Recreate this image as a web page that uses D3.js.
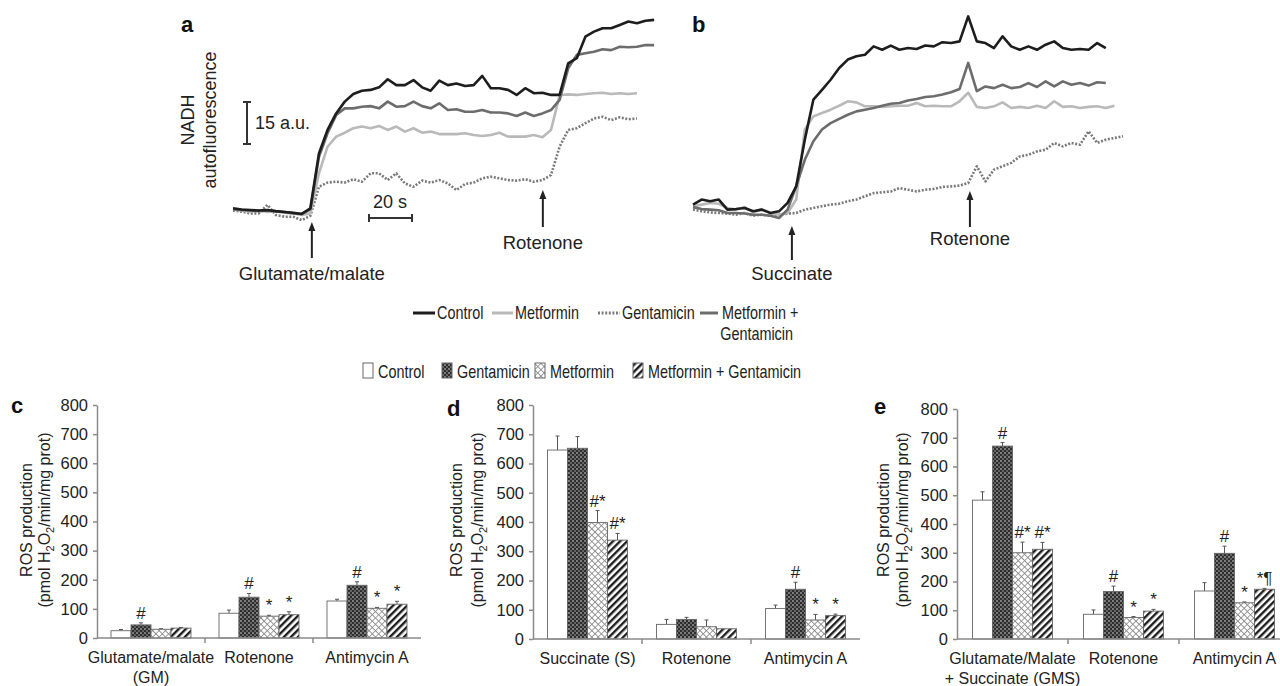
<!DOCTYPE html>
<html><head><meta charset="utf-8">
<script src="https://cdn.jsdelivr.net/npm/d3@7"></script>
<style>
body{margin:0;background:#fff}
svg{display:block;font-family:"Liberation Sans",Arial,Helvetica,sans-serif}
</style></head><body>
<svg id="fig" width="1280" height="686"></svg>
<script>
// ---- NADH traces (a, b): time in s, autofluorescence in a.u. ----
const timeA = [0,4,8,12,16,20,24,28,32,36,40,44,48,52,56,60,64,68,72,76,80,84,88,92,96,100,104,108,112,116,120,124,128,132,136,140,144,148,152,156,160,164,168,172,176,180,184,188,192,196];
const aControl = [0.6,0.2,0,-0.2,0,-0.4,-0.7,-1.0,-1.4,0.6,20.2,28.6,34.5,38.7,41.4,42.6,42.9,43.8,46.7,44.6,44.6,46.4,43.8,42.6,46.2,44.6,45.2,44.3,44.6,47.9,43.5,43.5,42.9,41.1,43.5,41.7,41.9,41.1,41.1,52.4,54.2,61.9,63.7,64.9,64.9,66.1,67.3,66.7,67.6,67.9];
const aMetGent = [0.2,0,-0.2,-0.4,-0.2,-0.5,-0.7,-1.2,-1.4,0.2,19.0,27.4,33.9,36.3,36.3,36.9,37.1,36.3,38.7,36.9,37.1,38.7,37.1,36.3,38.1,35.7,36.0,35.1,35.1,35.7,34.8,34.8,34.5,33.6,34.8,33.6,34.5,35.7,39.3,50.6,55.4,56.0,56.5,57.4,57.1,58.3,58.1,58.3,58.9,58.9];
const aMet = [0.2,-0.2,-0.6,-0.2,-0.7,-0.5,-1.0,-1.2,-1.8,-1.2,13.1,22.6,26.2,27.6,29.2,29.8,29.2,30.0,28.6,29.8,28.0,29.2,27.6,28.0,27.1,27.1,27.1,27.4,26.8,26.4,26.8,27.6,26.2,26.2,26.2,26.8,26.0,28.6,41.0,41.3,41.1,41.4,41.7,41.9,41.4,41.7,41.4,41.7,null,null];
const aGent = [-0.2,-0.6,-1.2,-1.2,1.8,-1.8,-2.4,-2.4,-3.6,-2.1,8.3,9.8,10.1,9.8,11.0,10.1,13.1,13.1,10.7,13.1,9.5,8.3,10.5,9.8,10.7,9.5,7.1,9.3,9.8,11.3,11.9,11.3,10.7,10.5,11.0,10.1,10.7,12.5,22.6,28.6,29.2,31.0,32.7,33.3,32.1,33.1,32.4,32.7,null,null];

const timeB = [0,4,8,12,16,20,24,28,32,36,40,44,48,52,56,60,64,68,72,76,80,84,88,92,96,100,104,108,112,116,120,124,128,132,136,140,144,148,152,156,160,164,168,172,176,180,184,188,192,196,200];
const bControl = [3.0,4.8,4.2,4.8,1.2,1.4,1.8,0.6,1.2,0,0.6,3.6,9.5,26.2,40.5,44.0,47.6,51.8,54.8,56.0,56.5,59.5,58.3,59.8,58.3,58.9,58.6,59.8,59.5,61.0,60.7,61.3,70.2,61.3,60.7,58.9,63.1,59.5,58.3,59.5,58.3,60.1,61.3,58.9,58.3,58.6,58.3,60.7,58.9,null,null];
const bMetGent = [2.1,1.4,1.2,1.0,0,0,-0.2,-0.6,-0.6,-1.0,-1.8,1.2,9.5,19.0,25.6,29.8,32.1,33.6,35.1,36.3,36.9,37.5,38.3,39.0,39.3,40.2,40.7,41.4,41.7,42.3,43.1,44.3,53.6,43.5,45.2,44.6,45.8,44.6,45.0,46.4,45.0,47.0,45.2,47.0,45.8,46.4,45.5,46.7,46.4,null,null];
const bMet = [2.4,3.0,3.6,3.3,1.8,1.2,2.1,0.2,1.4,0,-0.6,0,4.8,29.8,34.5,35.7,36.9,38.3,39.9,39.5,38.1,38.1,37.9,38.1,38.3,38.3,39.3,38.1,38.3,38.1,38.1,39.9,43.0,37.9,37.5,38.1,39.5,37.5,37.9,37.5,38.3,37.5,39.9,37.9,38.1,37.5,37.9,38.1,37.5,38.3,null];
const bGent = [1.2,0.6,0.2,0,-0.2,-0.6,0,-1.0,-0.6,-1.0,-0.6,-0.2,0,1.2,1.8,2.4,3.0,3.3,4.2,4.8,6.0,7.1,7.4,7.7,8.9,8.3,7.7,8.3,8.6,9.3,9.5,9.8,10.7,16.7,11.3,15.5,16.7,17.9,20.2,20.8,22.0,22.6,25.0,23.8,25.0,24.4,29.2,25.0,26.2,26.8,27.4];

// ---- ROS production bars (c, d, e): pmol H2O2/min/mg prot ----
const barSeries = ["Control", "Gentamicin", "Metformin", "Metformin + Gentamicin"];
const yTicks = [0, 100, 200, 300, 400, 500, 600, 700, 800];

const catsC = ["Glutamate/malate\n(GM)", "Rotenone", "Antimycin A"];
const cControl = [25, 85, 127], cControlErr = [4, 11, 6];
const cGent = [45, 140, 181], cGentErr = [7, 13, 12];
const cMet = [30, 75, 102], cMetErr = [2, 3, 3];
const cMetGent = [34, 80, 116], cMetGentErr = [2, 10, 10];
const cMarks = [["", "#", "", ""], ["", "#", "*", "*"], ["", "#", "*", "*"]];

const catsD = ["Succinate (S)", "Rotenone", "Antimycin A"];
const dControl = [646, 50, 104], dControlErr = [48, 17, 12];
const dGent = [652, 67, 170], dGentErr = [40, 7, 24];
const dMet = [398, 42, 65], dMetErr = [41, 23, 19];
const dMetGent = [338, 35, 80], dMetGentErr = [23, 0, 5];
const dMarks = [["", "", "#*", "#*"], ["", "", "", ""], ["", "#", "*", "*"]];

const catsE = ["Glutamate/Malate\n+ Succinate (GMS)", "Rotenone", "Antimycin A"];
const eControl = [483, 86, 167], eControlErr = [29, 15, 29];
const eGent = [671, 165, 298], eGentErr = [12, 19, 25];
const eMet = [300, 75, 126], eMetErr = [37, 3, 3];
const eMetGent = [312, 97, 173], eMetGentErr = [24, 6, 3];
const eMarks = [["", "#", "#*", "#*"], ["", "#", "*", "*"], ["", "#", "*", "*¶"]];

const svg = d3.select("#fig");
const lineStyle = {
    "Control": { stroke: "#1d1d1d", dash: null },
    "Metformin": { stroke: "#b9b9b9", dash: null },
    "Gentamicin": { stroke: "#7a7a7a", dash: "2,1.6" },
    "Metformin + Gentamicin": { stroke: "#6c6c6c", dash: null }
};

// patterns
const defs = svg.append("defs");
const pg = defs.append("pattern").attr("id", "p-gent").attr("patternUnits", "userSpaceOnUse")
    .attr("width", 4).attr("height", 4);
pg.append("rect").attr("width", 4).attr("height", 4).attr("fill", "#2e2e2e");
pg.append("circle").attr("cx", 1).attr("cy", 1).attr("r", 0.8).attr("fill", "#e0e0e0");
pg.append("circle").attr("cx", 3).attr("cy", 3).attr("r", 0.7).attr("fill", "#c4c4c4");
const pm = defs.append("pattern").attr("id", "p-met").attr("patternUnits", "userSpaceOnUse")
    .attr("width", 4.5).attr("height", 4.5).attr("patternTransform", "rotate(45)");
pm.append("rect").attr("width", 4.5).attr("height", 4.5).attr("fill", "#fff");
pm.append("path").attr("d", "M0,0H4.5M0,0V4.5").attr("stroke", "#8a8a8a").attr("stroke-width", 1.6);
const ps = defs.append("pattern").attr("id", "p-mg").attr("patternUnits", "userSpaceOnUse")
    .attr("width", 5).attr("height", 5).attr("patternTransform", "rotate(45)");
ps.append("rect").attr("width", 5).attr("height", 5).attr("fill", "#fff");
ps.append("line").attr("x1", 1.2).attr("x2", 1.2).attr("y1", 0).attr("y2", 5)
    .attr("stroke", "#1e1e1e").attr("stroke-width", 2.4);
const barFill = {
    "Control": "#fff", "Gentamicin": "url(#p-gent)",
    "Metformin": "url(#p-met)", "Metformin + Gentamicin": "url(#p-mg)"
};

function arrow(g, x, yTop, yBottom) {
    g.append("line").attr("x1", x).attr("x2", x).attr("y1", yTop + 7).attr("y2", yBottom)
        .attr("stroke", "#222").attr("stroke-width", 2);
    g.append("path").attr("d", `M${x},${yTop}L${x - 3.5},${yTop + 9}L${x + 3.5},${yTop + 9}Z`).attr("fill", "#222");
}

// condensed legend text (narrow sans look)
function narrowText(g, x, y, str, anchor) {
    return g.append("text").attr("transform", `translate(${x},${y}) scale(0.8,1)`)
        .attr("text-anchor", anchor || "start").text(str);
}

function drawTrace(cfg) {
    const g = svg.append("g");
    const x = d3.scaleLinear().domain(cfg.xDomain).range(cfg.xRange);
    const y = d3.scaleLinear().domain([0, 15]).range([cfg.y0, cfg.y0 - 42]);
    const line = d3.line().defined(d => d[1] != null).x(d => x(d[0])).y(d => y(d[1]));
    cfg.series.forEach(s => {
        const st = lineStyle[s.name];
        g.append("path").datum(cfg.times.map((t, i) => [t, s.values[i]]))
            .attr("d", line).attr("fill", "none")
            .attr("stroke", st.stroke).attr("stroke-width", 2.6)
            .attr("stroke-linejoin", "round")
            .attr("stroke-dasharray", st.dash);
    });
    cfg.arrows.forEach(a => {
        const ax = x(a.t);
        arrow(g, ax, a.top, a.bottom);
        g.append("text").attr("x", ax).attr("y", a.labelY).attr("text-anchor", "middle")
            .attr("font-size", 18.5).attr("fill", "#222").text(a.label);
    });
    g.append("text").attr("x", cfg.letter[0]).attr("y", cfg.letter[1]).attr("font-size", 22)
        .attr("font-weight", "bold").attr("fill", "#111").text(cfg.letter[2]);
    return { g, x, y };
}

const pa = drawTrace({
    times: timeA, xDomain: [0, 195], xRange: [233, 652], y0: 210,
    series: [{ name: "Gentamicin", values: aGent }, { name: "Metformin", values: aMet },
             { name: "Metformin + Gentamicin", values: aMetGent }, { name: "Control", values: aControl }],
    arrows: [{ t: 36.7, top: 222, bottom: 258, label: "Glutamate/malate", labelY: 280 },
             { t: 144.2, top: 190, bottom: 227, label: "Rotenone", labelY: 249 }],
    letter: [181, 32, "a"]
});
drawTrace({
    times: timeB, xDomain: [0, 200], xRange: [693, 1123], y0: 213,
    series: [{ name: "Gentamicin", values: bGent }, { name: "Metformin", values: bMet },
             { name: "Metformin + Gentamicin", values: bMetGent }, { name: "Control", values: bControl }],
    arrows: [{ t: 46, top: 226, bottom: 260, label: "Succinate", labelY: 280 },
             { t: 128.8, top: 191, bottom: 227, label: "Rotenone", labelY: 245 }],
    letter: [692, 32, "b"]
});

// scale bars in panel a
const sb = pa.g.append("g").attr("stroke", "#333").attr("stroke-width", 2);
const vLen = pa.y(0) - pa.y(15), hLen = pa.x(20) - pa.x(0);
sb.append("line").attr("x1", 247).attr("x2", 247).attr("y1", 144 - vLen).attr("y2", 144);
sb.append("line").attr("x1", 243).attr("x2", 251).attr("y1", 144 - vLen).attr("y2", 144 - vLen);
sb.append("line").attr("x1", 243).attr("x2", 251).attr("y1", 144).attr("y2", 144);
sb.append("line").attr("x1", 369).attr("x2", 369 + hLen).attr("y1", 218).attr("y2", 218);
sb.append("line").attr("x1", 369).attr("x2", 369).attr("y1", 214).attr("y2", 222);
sb.append("line").attr("x1", 369 + hLen).attr("x2", 369 + hLen).attr("y1", 214).attr("y2", 222);
pa.g.append("text").attr("x", 255).attr("y", 129).attr("font-size", 18).attr("fill", "#222").text("15 a.u.");
pa.g.append("text").attr("x", 390).attr("y", 208).attr("font-size", 18).attr("text-anchor", "middle").attr("fill", "#222").text("20 s");
const nl = pa.g.append("text").attr("transform", "translate(0,120) rotate(-90)")
    .attr("text-anchor", "middle").attr("font-size", 18).attr("fill", "#222");
nl.append("tspan").attr("x", 0).attr("y", 194).text("NADH");
nl.append("tspan").attr("x", 0).attr("y", 216).text("autofluorescence");

// line legend
const lineLeg = svg.append("g").attr("font-size", 18).attr("fill", "#222");
[["Control", 413, 22], ["Metformin", 492, 21], ["Gentamicin", 598, 22], ["Metformin + Gentamicin", 700, 18]]
    .forEach(([name, lx, len]) => {
        const st = lineStyle[name];
        lineLeg.append("line").attr("x1", lx).attr("x2", lx + len).attr("y1", 313).attr("y2", 313)
            .attr("stroke", st.stroke).attr("stroke-width", 3).attr("stroke-dasharray", st.dash);
        if (name === "Metformin + Gentamicin") {
            narrowText(lineLeg, lx + len + 4, 319, "Metformin +");
            narrowText(lineLeg, 793, 340, "Gentamicin", "end");
        } else {
            narrowText(lineLeg, lx + len + 2, 319, name);
        }
    });

// bar legend
const barLeg = svg.append("g").attr("font-size", 18).attr("fill", "#222");
[363, 442, 535, 633].forEach((lx, i) => {
    barLeg.append("rect").attr("x", lx).attr("y", 363).attr("width", 10).attr("height", 15)
        .attr("fill", barFill[barSeries[i]]).attr("stroke", "#666").attr("stroke-width", 1);
    narrowText(barLeg, lx + 15, 378, barSeries[i]);
});

function drawBars(cfg) {
    const g = svg.append("g");
    const x = d3.scaleBand().domain(cfg.cats).range(cfg.xRange);
    const y = d3.scaleLinear().domain([0, 800]).range(cfg.yRange);
    const bw = x.bandwidth();
    const xs = d3.scaleBand().domain(barSeries).range([bw / 2 - 40, bw / 2 + 40]);
    const vals = [cfg.control, cfg.gent, cfg.met, cfg.mg];
    const errs = [cfg.controlErr, cfg.gentErr, cfg.metErr, cfg.mgErr];

    const yAxis = g.append("g").attr("transform", `translate(${cfg.xRange[0]},0)`)
        .call(d3.axisLeft(y).tickValues(yTicks).tickSize(4).tickSizeOuter(0).tickPadding(5));
    yAxis.selectAll("path,line").attr("stroke", "#8a8a8a").attr("stroke-width", 1.5);
    yAxis.selectAll("text").attr("font-size", 16.5).attr("fill", "#222").attr("font-family", null);

    cfg.cats.forEach((c, ci) => {
        barSeries.forEach((s, si) => {
            const v = vals[si][ci], e = errs[si][ci];
            const bx = x(c) + xs(s);
            if (e > 0) {
                g.append("line").attr("x1", bx + 10).attr("x2", bx + 10).attr("y1", y(v)).attr("y2", y(v + e))
                    .attr("stroke", "#555").attr("stroke-width", 1);
                g.append("line").attr("x1", bx + 8).attr("x2", bx + 12).attr("y1", y(v + e)).attr("y2", y(v + e))
                    .attr("stroke", "#555").attr("stroke-width", 1);
            }
            g.append("rect").attr("x", bx).attr("y", y(v)).attr("width", xs.bandwidth())
                .attr("height", y(0) - y(v)).attr("fill", barFill[s])
                .attr("stroke", "#666").attr("stroke-width", 0.9);
            const m = cfg.marks[ci][si];
            if (m) {
                g.append("text").attr("x", bx + 10).attr("y", y(v + e) - 4).attr("text-anchor", "middle")
                    .attr("font-size", 17).attr("fill", "#222").text(m);
            }
        });
        const lab = g.append("text").attr("text-anchor", "middle").attr("font-size", 16).attr("fill", "#222");
        c.split("\n").forEach((t, li) => {
            lab.append("tspan").attr("x", x(c) + bw / 2).attr("y", cfg.yRange[0] + 25 + li * 20).text(t);
        });
    });
    // x axis line with boundary ticks
    const xa = g.append("g").attr("stroke", "#8a8a8a").attr("stroke-width", 1.5);
    xa.append("line").attr("x1", cfg.xRange[0]).attr("x2", cfg.xRange[1])
        .attr("y1", y(0)).attr("y2", y(0));
    cfg.cats.slice(1).forEach(c => {
        xa.append("line").attr("x1", x(c)).attr("x2", x(c)).attr("y1", y(0)).attr("y2", y(0) + 5);
    });

    const tl = g.append("text").attr("text-anchor", "middle").attr("font-size", 16).attr("fill", "#222")
        .attr("transform", `translate(0,520) rotate(-90)`);
    tl.append("tspan").attr("x", 0).attr("y", cfg.titleX[0]).text("ROS production");
    const t2 = g.append("text").attr("text-anchor", "middle").attr("font-size", 16).attr("fill", "#222")
        .attr("transform", `translate(0,520) rotate(-90)`).attr("y", cfg.titleX[1]);
    t2.append("tspan").text("(pmol H");
    t2.append("tspan").attr("font-size", 11).attr("dy", 4).text("2");
    t2.append("tspan").attr("dy", -4).text("O");
    t2.append("tspan").attr("font-size", 11).attr("dy", 4).text("2");
    t2.append("tspan").attr("dy", -4).text("/min/mg prot)");
    g.append("text").attr("x", cfg.letter[0]).attr("y", cfg.letter[1]).attr("font-size", 22)
        .attr("font-weight", "bold").attr("fill", "#111").text(cfg.letter[2]);
}

drawBars({
    cats: catsC, xRange: [97, 421], yRange: [638, 405],
    control: cControl, gent: cGent, met: cMet, mg: cMetGent,
    controlErr: cControlErr, gentErr: cGentErr, metErr: cMetErr, mgErr: cMetGentErr,
    marks: cMarks, titleX: [32, 50], letter: [11, 413, "c"]
});
drawBars({
    cats: catsD, xRange: [533, 860], yRange: [639, 405],
    control: dControl, gent: dGent, met: dMet, mg: dMetGent,
    controlErr: dControlErr, gentErr: dGentErr, metErr: dMetErr, mgErr: dMetGentErr,
    marks: dMarks, titleX: [462, 483], letter: [447, 416, "d"]
});
drawBars({
    cats: catsE, xRange: [957, 1290], yRange: [639, 409],
    control: eControl, gent: eGent, met: eMet, mg: eMetGent,
    controlErr: eControlErr, gentErr: eGentErr, metErr: eMetErr, mgErr: eMetGentErr,
    marks: eMarks, titleX: [889, 908], letter: [874, 414, "e"]
});
</script></body></html>
